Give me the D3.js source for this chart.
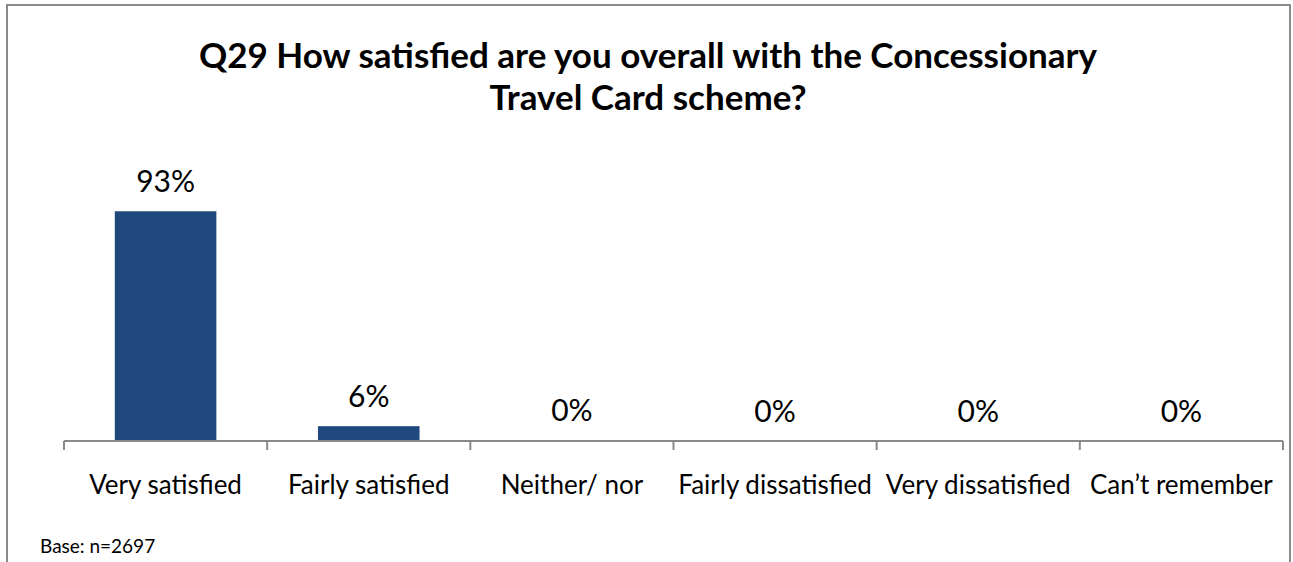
<!DOCTYPE html>
<html>
<head>
<meta charset="utf-8">
<script src="https://cdn.jsdelivr.net/npm/d3@7"></script>
<style>
  html, body { margin: 0; padding: 0; background: #fff; }
  svg { display: block; }
  text { font-family: Lato, "Liberation Sans", sans-serif; fill: #000; }
</style>
</head>
<body>
<svg id="chart" width="1293" height="562"></svg>
<script>
// Survey responses, Q29 overall satisfaction (percent of respondents)
const categories = ["Very satisfied", "Fairly satisfied", "Neither/ nor", "Fairly dissatisfied", "Very dissatisfied", "Can\u2019t remember"];
const values = [93, 6, 0.4, 0.2, 0, 0.2];
const titleLines = ["Q29 How satisfied are you overall with the Concessionary", "Travel Card scheme?"];
const baseNote = "Base: n=2697";

const W = 1293, H = 562;
const svg = d3.select("#chart");

// chart frame
svg.append("rect")
  .attr("x", 7).attr("y", 5)
  .attr("width", 1283).attr("height", H + 10)
  .attr("fill", "#fff")
  .attr("stroke", "#8a8a8a")
  .attr("stroke-width", 2);

const plot = { left: 64, right: 1283, top: 194, bottom: 441 };

const x = d3.scaleBand()
  .domain(categories)
  .range([plot.left, plot.right])
  .paddingInner(0.5)
  .paddingOuter(0.25);

const y = d3.scaleLinear()
  .domain([0, 100])
  .range([plot.bottom, plot.top]);

// title
svg.append("g").selectAll("text")
  .data(titleLines)
  .join("text")
  .attr("x", 648)
  .attr("y", (d, i) => 68 + i * 42)
  .attr("text-anchor", "middle")
  .attr("font-weight", "bold")
  .attr("font-size", 35)
  .text(d => d);

// bars
svg.append("g").selectAll("rect")
  .data(values)
  .join("rect")
  .attr("x", (d, i) => x(categories[i]))
  .attr("width", x.bandwidth())
  .attr("y", d => y(d))
  .attr("height", d => y(0) - y(d))
  .attr("fill", "#1f497d");

// value labels
const pct = d3.format(".0f");
svg.append("g").selectAll("text")
  .data(values)
  .join("text")
  .attr("x", (d, i) => x(categories[i]) + x.bandwidth() / 2)
  .attr("y", d => y(d) - 19)
  .attr("text-anchor", "middle")
  .attr("font-size", 30)
  .text(d => pct(d) + "%");

// category axis with ticks on band boundaries
const axisG = svg.append("g");
axisG.append("line")
  .attr("x1", plot.left).attr("x2", plot.right)
  .attr("y1", plot.bottom).attr("y2", plot.bottom)
  .attr("stroke", "#8a8a8a").attr("stroke-width", 2);

const boundaries = categories.map(c => x(c) - x.step() * x.paddingInner() / 2);
boundaries.push(plot.right);
axisG.selectAll("line.tick")
  .data(boundaries)
  .join("line")
  .attr("class", "tick")
  .attr("x1", d => d).attr("x2", d => d)
  .attr("y1", plot.bottom).attr("y2", plot.bottom + 9)
  .attr("stroke", "#8a8a8a").attr("stroke-width", 2);

axisG.selectAll("text")
  .data(categories)
  .join("text")
  .attr("x", d => x(d) + x.bandwidth() / 2)
  .attr("y", 494)
  .attr("text-anchor", "middle")
  .attr("font-size", 26)
  .text(d => d);

// base note
svg.append("text")
  .attr("x", 40).attr("y", 553)
  .attr("font-size", 19)
  .text(baseNote);
</script>
</body>
</html>
